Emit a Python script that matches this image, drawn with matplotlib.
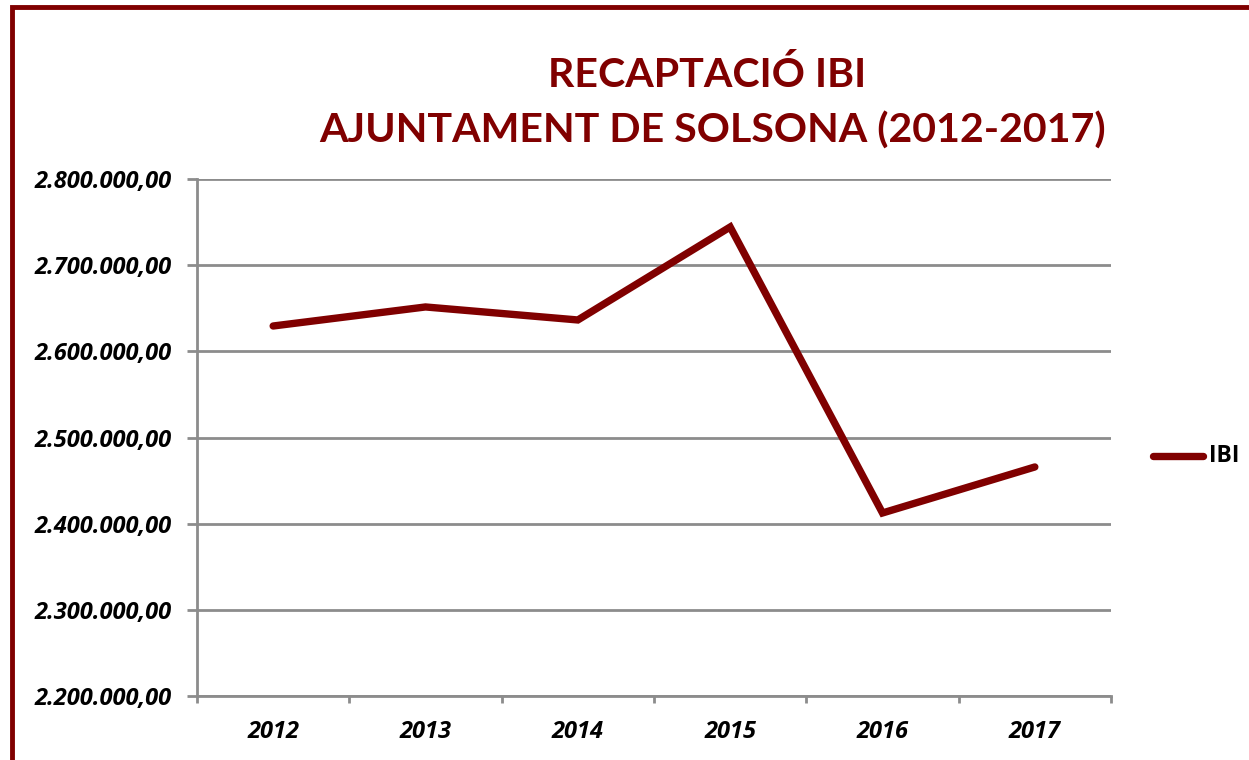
import matplotlib
matplotlib.use("Agg")
import matplotlib.pyplot as plt
from matplotlib.ticker import FixedLocator, FuncFormatter
from matplotlib.patches import Rectangle
from matplotlib.lines import Line2D

years = ["2012", "2013", "2014", "2015", "2016", "2017"]
ibi = [2629400, 2651500, 2636400, 2744300, 2412400, 2465800]
y_ticks = [2200000, 2300000, 2400000, 2500000, 2600000, 2700000, 2800000]

RED = "#800000"
GRID = "#8c8c8c"
FONT = "Open Sans"
TITLE_FONT = "Lato"

W, H = 1249, 760
fig = plt.figure(figsize=(W / 100, H / 100), dpi=100)

# outer border (cropped on right/bottom)
fig.patches.append(Rectangle((12 / W, -0.1), 1.2, (H - 7) / H + 0.1,
                             transform=fig.transFigure, fill=False,
                             edgecolor=RED, linewidth=3.5))

ax = fig.add_axes([197 / W, 1 - 696 / H, (1111 - 197) / W, (696 - 179) / H])
x = list(range(len(years)))
ax.plot(x, ibi, color=RED, linewidth=5.3, solid_capstyle="round", solid_joinstyle="miter")
ax.set_xlim(-0.5, len(years) - 0.5)
ax.set_ylim(2200000, 2800000)

ax.yaxis.set_major_locator(FixedLocator(y_ticks))
ax.yaxis.set_major_formatter(FuncFormatter(
    lambda v, p: f"{v:,.2f}".replace(",", "X").replace(".", ",").replace("X", ".")))
ax.set_xticks(x)
ax.set_xticklabels(years)
ax.xaxis.set_minor_locator(FixedLocator([i - 0.5 for i in range(len(years) + 1)]))
ax.tick_params(axis="x", which="major", length=0, pad=17)
ax.tick_params(axis="x", which="minor", length=5, width=2, color=GRID, direction="out")
ax.tick_params(axis="y", length=7, width=2, color=GRID, direction="out", pad=11)

for lab in ax.get_xticklabels() + ax.get_yticklabels():
    lab.set_fontfamily(FONT)
    lab.set_fontweight("bold")
    lab.set_fontstyle("italic")
    lab.set_fontsize(17)
    lab.set_color("black")

ax.grid(axis="y", color=GRID, linewidth=2)
ax.set_axisbelow(True)
for s in ["top", "right"]:
    ax.spines[s].set_visible(False)
for s in ["left", "bottom"]:
    ax.spines[s].set_color(GRID)
    ax.spines[s].set_linewidth(2)

fig.text(707 / W, 1 - 75 / H, "RECAPTACIÓ IBI", ha="center", va="center",
         fontsize=29.6, fontweight="bold", color=RED, family=TITLE_FONT)
fig.text(713 / W, 1 - 131 / H, "AJUNTAMENT DE SOLSONA (2012-2017)", ha="center",
         va="center", fontsize=29.6, fontweight="bold", color=RED, family=TITLE_FONT)

# legend
fig.lines.append(Line2D([1153 / W, 1203 / W], [1 - 456 / H, 1 - 456 / H],
                        transform=fig.transFigure, color=RED, linewidth=5.3,
                        solid_capstyle="round"))
fig.text(1209 / W, 1 - 456 / H, "IBI", ha="left", va="center", fontsize=16.5,
         fontweight="bold", color="black", family=FONT)

fig.savefig("out.png", dpi=100)
